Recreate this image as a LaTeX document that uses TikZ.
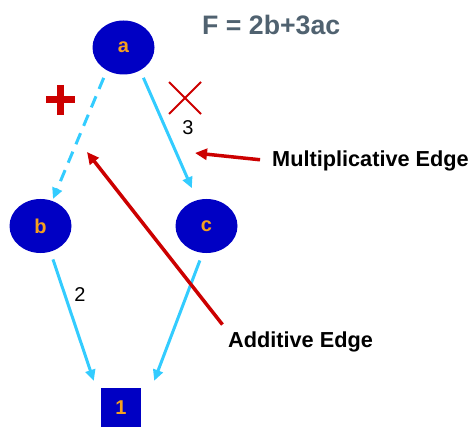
\documentclass[tikz,border=0pt]{standalone}
\usepackage{fontspec}
\setmainfont{Liberation Sans}
\usetikzlibrary{arrows.meta,shapes.geometric,shapes.misc}

\definecolor{nodeblue}{RGB}{0,0,196}
\definecolor{edgecyan}{RGB}{51,204,255}
\definecolor{markred}{RGB}{204,0,0}
\definecolor{labelorange}{RGB}{245,160,30}
\definecolor{formulagray}{RGB}{80,98,112}

\begin{document}
\begin{tikzpicture}[
  x=1pt, y=-1pt,
  var/.style={ellipse, fill=nodeblue, inner sep=0pt, minimum width=62pt, minimum height=54pt,
              text=labelorange, font=\fontsize{20}{24}\selectfont\bfseries},
  outbox/.style={rectangle, fill=nodeblue, inner sep=0pt, minimum size=40pt,
              text=labelorange, font=\fontsize{20}{24}\selectfont\bfseries},
  edge/.style={-{Triangle[length=11pt,width=10pt]}, line width=3pt, draw=edgecyan},
  addedge/.style={edge, dash pattern=on 12pt off 8pt},
  note/.style={-{Triangle[length=12pt,width=11pt]}, line width=3.5pt, draw=markred},
  notetext/.style={anchor=west, inner sep=0pt, font=\fontsize{21.7}{26}\selectfont\bfseries},
  weight/.style={inner sep=0pt, font=\fontsize{20}{24}\selectfont}
]
\useasboundingbox (0,0) rectangle (470,427);

\node[var] (a) at (123.5,47.5) {a};
\node[var] (b) at (40.5,226) {b};
\node[var] (c) at (206.5,226) {c};
\node[outbox] (one) at (121,408) {1};

\draw[addedge, shorten <=8pt, shorten >=2pt] (a.234) -- (b.65);
\draw[edge, shorten <=8pt, shorten >=13pt] (a.306) -- (c.110);
\draw[edge, shorten <=8pt] (b.291) -- ([xshift=-7pt,yshift=7pt]one.north west);
\draw[edge, shorten <=8pt] (c.262) -- ([xshift=13pt,yshift=7pt]one.north east);

\node[weight] (w2) at (80,295) {2};
\node[weight] (w3) at (188,128) {3};

% operation marks
\node[cross out, draw=markred, line width=2pt, minimum size=30pt] (times) at (185,98) {};
\draw[markred, line width=7pt] (46,100) -- (75,100) (60.5,85) -- (60.5,115);

\node[font=\fontsize{26.7}{32}\selectfont\bfseries, text=formulagray, anchor=west, inner sep=0pt]
  (formula) at (202,24.5) {F = 2b+3ac};

\node[notetext] (mult) at (272,161) {Multiplicative Edge};
\node[notetext] (add) at (228,342) {Additive Edge};
\coordinate (multtip) at (195,153);
\coordinate (addtip) at (87,152);
\draw[note, shorten <=12pt] (mult.west) -- (multtip);
\draw[note, shorten <=9pt] (add.north west) -- (addtip);
\end{tikzpicture}
\end{document}
